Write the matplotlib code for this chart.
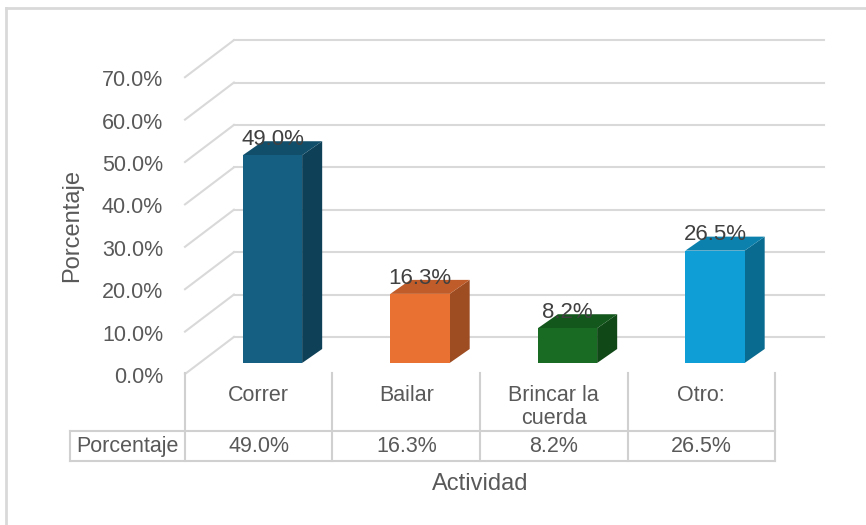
import matplotlib.pyplot as plt
from matplotlib.lines import Line2D

plt.rcParams['font.family'] = ['Liberation Sans', 'DejaVu Sans']

categories = ["Correr", "Bailar", "Brincar la\ncuerda", "Otro:"]
values = [49.0, 16.3, 8.2, 26.5]
yticks = [0, 10, 20, 30, 40, 50, 60, 70]
front_colors = ["#156082", "#E97132", "#196B24", "#0F9ED5"]
row_label = "Porcentaje"


def shade(hex_color, f):
    h = hex_color.lstrip("#")
    r, g, b = (int(h[i:i + 2], 16) for i in (0, 2, 4))
    return "#%02x%02x%02x" % (int(r * f), int(g * f), int(b * f))


fig = plt.figure(figsize=(8.66, 5.25), dpi=100)
ax = fig.add_axes([0, 0, 1, 1])
ax.set_xlim(-1.2542, 4.6169)
ax.set_ylim(-35.61, 88.21)
ax.axis("off")

grid_c = "#d9d9d9"
text_c = "#595959"
n = len(categories)

# back wall offset (3D depth) and bar depth
wdx, wdy = 0.332, 8.75
bdx, bdy = 0.136, 3.3
bz = 2.6          # bar base above the floor front edge
bl, bw = 0.392, 0.402

# gridlines on wall + floor diagonals
for v in yticks:
    ax.plot([wdx, n + wdx], [v + wdy, v + wdy], color=grid_c, lw=1.5, zorder=1)
    ax.plot([0, wdx], [v, v + wdy], color=grid_c, lw=1.5, zorder=1)
    ax.text(-0.149, v - 0.8, f"{v:.1f}%", ha="right", va="center",
            fontsize=15.5, color=text_c)

# 3D bars
for i, (v, c) in enumerate(zip(values, front_colors)):
    x0, x1 = i + bl, i + bl + bw
    y0, y1 = bz, bz + v
    ax.fill([x1, x1 + bdx, x1 + bdx, x1], [y0, y0 + bdy, y1 + bdy, y1],
            color=shade(c, 0.68), lw=0, zorder=3)
    ax.fill([x0, x1, x1 + bdx, x0 + bdx], [y1, y1, y1 + bdy, y1 + bdy],
            color=shade(c, 0.82), lw=0, zorder=3)
    ax.bar(x0, v, width=bw, bottom=y0, align="edge", color=c, lw=0, zorder=4)
    ax.text((x0 + x1) / 2, y1 + 2.4, f"{v:.1f}%", ha="center", va="baseline",
            fontsize=16, color="#404040", zorder=5)

# data table
t_top, t_bot, t_left = -13.44, -20.52, -0.78
line_c = "#d0d0d0"
ax.plot([t_left, n], [t_top, t_top], color=line_c, lw=1.5)
ax.plot([t_left, n], [t_bot, t_bot], color=line_c, lw=1.5)
ax.plot([t_left, t_left], [t_top, t_bot], color=line_c, lw=1.5)
for i in range(n + 1):
    ax.plot([i, i], [0.2, t_bot], color=line_c, lw=1.5)
for i, (cat, v) in enumerate(zip(categories, values)):
    ax.text(i + 0.5, -2.6, cat, ha="center", va="top", fontsize=15.5,
            color=text_c, linespacing=1.1)
    ax.text(i + 0.5, (t_top + t_bot) / 2, f"{v:.1f}%", ha="center",
            va="center", fontsize=15.5, color=text_c)
ax.text((t_left) / 2, (t_top + t_bot) / 2, row_label, ha="center",
        va="center", fontsize=15.5, color=text_c)

# axis titles
ax.text(n / 2, -25.9, "Actividad", ha="center", va="center",
        fontsize=17, color=text_c)
ax.text(-0.766, 35, "Porcentaje", ha="center", va="center", rotation=90,
        fontsize=17, color=text_c)

# chart area border (only left/top visible)
fig.add_artist(Line2D([6 / 866, 6 / 866], [0, 1 - 8 / 525],
                      transform=fig.transFigure, color=grid_c, lw=2))
fig.add_artist(Line2D([6 / 866, 1], [1 - 8 / 525, 1 - 8 / 525],
                      transform=fig.transFigure, color=grid_c, lw=2))

fig.savefig("out.png", dpi=100, facecolor="white")
